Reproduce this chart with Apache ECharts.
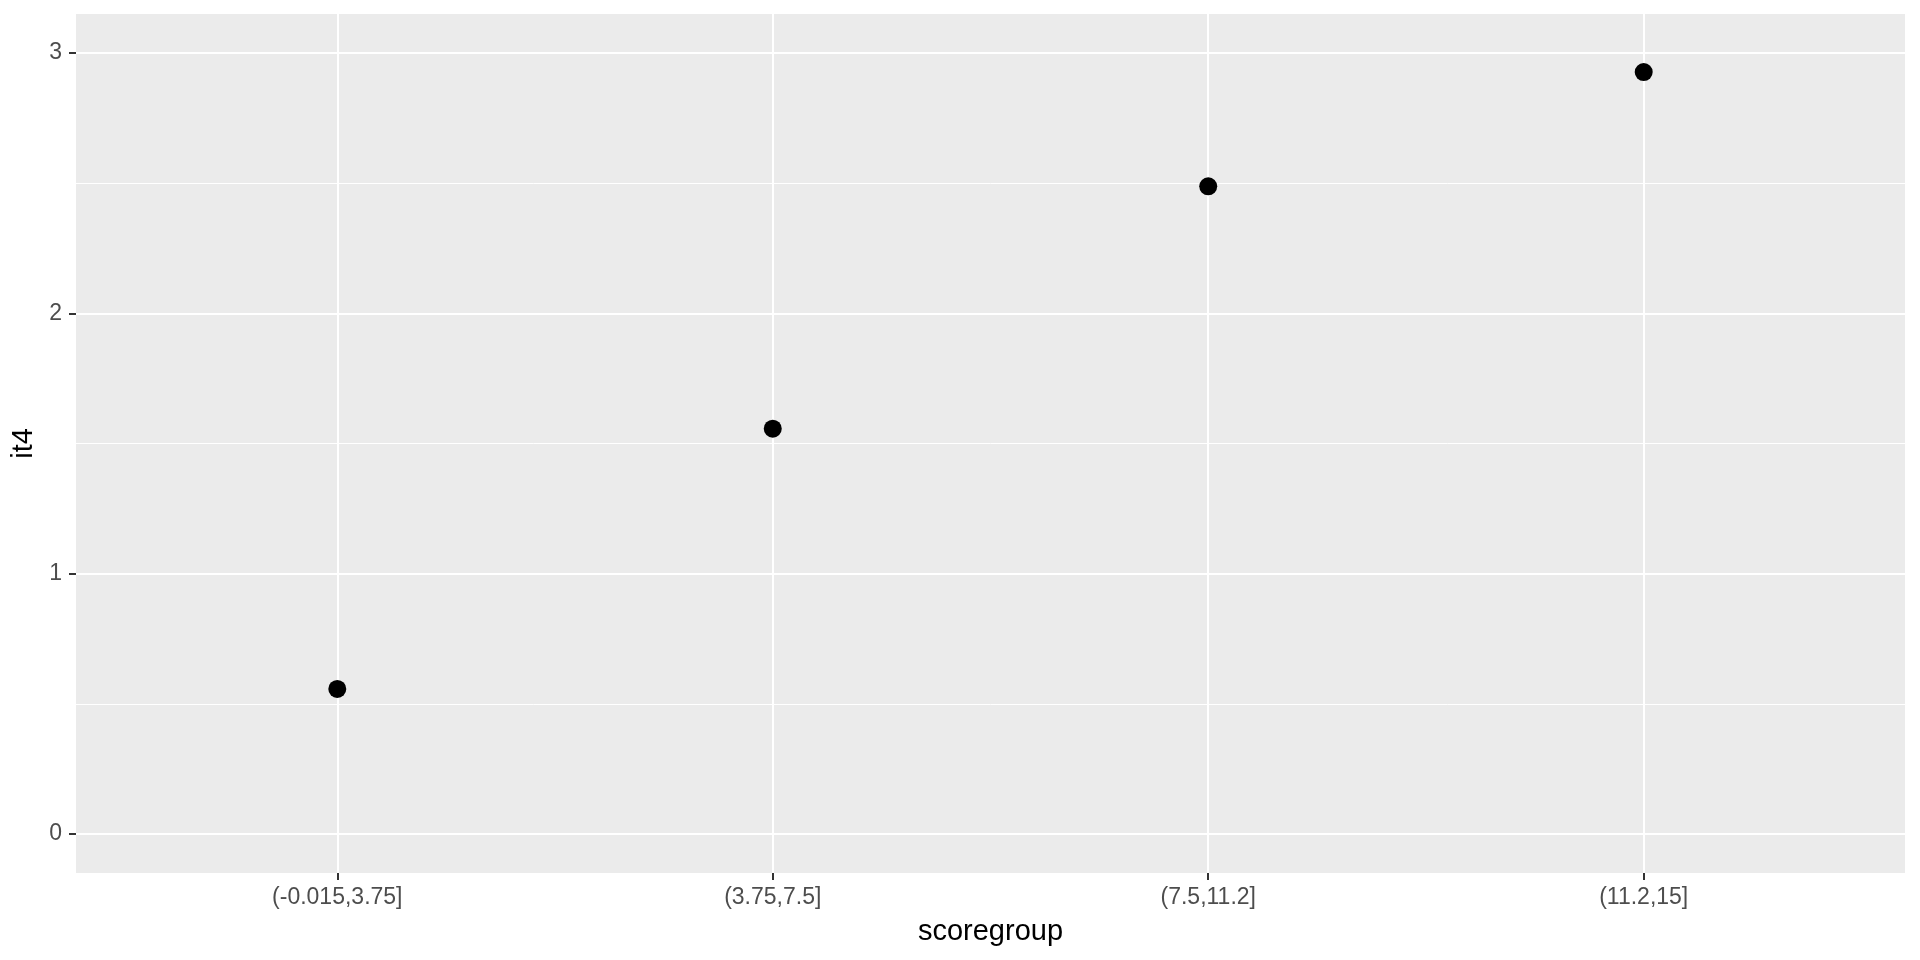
<!DOCTYPE html>
<html>
<head>
<meta charset="utf-8">
<script src="https://cdn.jsdelivr.net/npm/echarts@6/dist/echarts.min.js"></script>
<style>
html,body{margin:0;padding:0;background:#fff;}
#chart{width:1920px;height:960px;}
</style>
</head>
<body>
<div id="chart"></div>
<script>
const categories = ['(-0.015,3.75]', '(3.75,7.5]', '(7.5,11.2]', '(11.2,15]'];
const it4Values = [0.557, 1.557, 2.488, 2.927];
const yTicks = [0, 1, 2, 3];
const yMinorTicks = [0.5, 1.5, 2.5];
const xTickPositions = [1, 2, 3, 4];

const chart = echarts.init(document.getElementById('chart'));
const FONT = '"Liberation Sans", Arial, sans-serif';

const option = {
  animation: false,
  grid: {
    left: 76, right: 15, top: 14, bottom: 87,
    show: true, backgroundColor: '#EBEBEB', borderWidth: 0
  },
  xAxis: [{
    type: 'value',
    min: 0.4, max: 4.6,
    name: 'scoregroup',
    nameLocation: 'middle',
    nameGap: 44,
    nameTextStyle: { color: '#000', fontSize: 29, fontFamily: FONT },
    axisLine: { show: false, onZero: false },
    axisTick: { show: true, length: 7, customValues: xTickPositions, lineStyle: { color: '#333333', width: 2 } },
    axisLabel: {
      customValues: xTickPositions,
      margin: 13,
      color: '#4D4D4D', fontSize: 23, fontFamily: FONT,
      formatter: v => categories[Math.round(v) - 1] || ''
    },
    splitLine: { show: true, lineStyle: { color: '#FFFFFF', width: 2 } }
  }],
  yAxis: [{
    type: 'value',
    min: -0.15, max: 3.15,
    name: 'it4',
    nameLocation: 'middle',
    nameGap: 32,
    nameTextStyle: { color: '#000', fontSize: 29, fontFamily: FONT },
    axisLine: { show: false, onZero: false },
    axisTick: { show: true, length: 7, customValues: yTicks, lineStyle: { color: '#333333', width: 2 } },
    axisLabel: {
      customValues: yTicks,
      margin: 14,
      color: '#4D4D4D', fontSize: 23, fontFamily: FONT,
      formatter: v => String(v)
    },
    splitLine: { show: true, lineStyle: { color: '#FFFFFF', width: 2 } },
    z: 1
  }, {
    type: 'value',
    min: -0.15, max: 3.15,
    position: 'left',
    axisLine: { show: false, onZero: false },
    axisTick: { show: false, customValues: yMinorTicks },
    axisLabel: { show: false, customValues: yMinorTicks },
    splitLine: { show: true, lineStyle: { color: '#FFFFFF', width: 1 } },
    z: 0
  }],
  series: [{
    type: 'scatter',
    data: it4Values.map((v, i) => [xTickPositions[i], v]),
    symbol: 'circle',
    symbolSize: 18,
    itemStyle: { color: '#000000', opacity: 1 },
    z: 5
  }]
};
chart.setOption(option);
</script>
</body>
</html>
